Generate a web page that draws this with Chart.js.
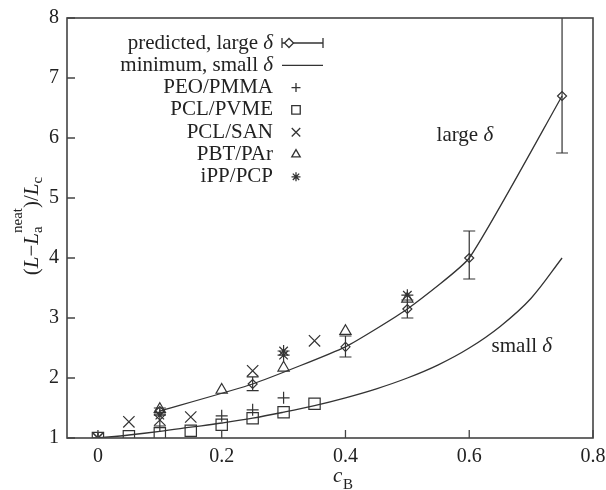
<!DOCTYPE html>
<html>
<head>
<meta charset="utf-8">
<script src="https://cdn.jsdelivr.net/npm/chart.js@4.4.0/dist/chart.umd.min.js"></script>
<style>
  body { margin: 0; background: #fff; }
  #wrap { width: 606px; height: 490px; }
</style>
</head>
<body>
<div id="wrap"><canvas id="chart" width="606" height="490"></canvas></div>
<script>
// axis ticks
const xTicks = [0, 0.2, 0.4, 0.6, 0.8];
const yTicks = [1, 2, 3, 4, 5, 6, 7, 8];

// predicted, large delta (with error bars)
const predX  = [0.1, 0.25, 0.4, 0.5, 0.6, 0.75];
const predY  = [1.45, 1.9, 2.52, 3.15, 4.0, 6.7];
const predLo = [1.4, 1.79, 2.35, 3.0, 3.65, 5.75];
const predHi = [1.5, 2.02, 2.7, 3.3, 4.45, 8.3];

// minimum, small delta
const minX = [0, 0.05, 0.1, 0.15, 0.2, 0.25, 0.3, 0.35, 0.4, 0.45, 0.5, 0.55, 0.6, 0.65, 0.7, 0.75];
const minY = [1.0, 1.05, 1.11, 1.18, 1.25, 1.33, 1.43, 1.54, 1.67, 1.82, 2.0, 2.22, 2.5, 2.86, 3.33, 4.0];

// experiments
const peoX  = [0, 0.1, 0.2, 0.25, 0.3];
const peoY  = [1.0, 1.2, 1.37, 1.47, 1.67];
const pvmeX = [0, 0.05, 0.1, 0.15, 0.2, 0.25, 0.3, 0.35];
const pvmeY = [1.0, 1.03, 1.08, 1.12, 1.22, 1.33, 1.43, 1.57];
const sanX  = [0, 0.05, 0.1, 0.15, 0.25, 0.35];
const sanY  = [1.0, 1.27, 1.3, 1.35, 2.12, 2.62];
const parX  = [0.1, 0.2, 0.3, 0.4, 0.5];
const parY  = [1.48, 1.8, 2.17, 2.78, 3.32];
const pcpX  = [0, 0.1, 0.3, 0.3, 0.5];
const pcpY  = [1.0, 1.38, 2.38, 2.45, 3.38];

const INK = "#333";
const SERIF = "'Liberation Serif', 'DejaVu Serif', serif";

function pts(xs, ys) {
    return xs.map((x, i) => ({ x: x, y: ys[i] }));
}

function marker(label, xs, ys, style, r) {
    return {
        label: label,
        data: pts(xs, ys),
        showLine: false,
        pointStyle: style,
        pointRadius: r,
        pointBorderWidth: 1.2,
        borderColor: INK,
        backgroundColor: "rgba(0,0,0,0)",
        kind: "point"
    };
}

const datasets = [
    {
        label: "predicted, large \u03b4",
        data: pts(predX, predY),
        showLine: true,
        tension: 0.15,
        borderWidth: 1.3,
        borderColor: INK,
        backgroundColor: "rgba(0,0,0,0)",
        pointStyle: "rectRot",
        pointRadius: 4.5,
        pointBorderWidth: 1.2,
        kind: "errline",
        lo: predLo,
        hi: predHi
    },
    {
        label: "minimum, small \u03b4",
        data: pts(minX, minY),
        showLine: true,
        tension: 0.35,
        borderWidth: 1.3,
        borderColor: INK,
        pointRadius: 0,
        kind: "line"
    },
    marker("PEO/PMMA", peoX, peoY, "cross", 6),
    marker("PCL/PVME", pvmeX, pvmeY, "rect", 8),
    marker("PCL/SAN", sanX, sanY, "crossRot", 8),
    marker("PBT/PAr", parX, parY, "triangle", 6.5),
    marker("iPP/PCP", pcpX, pcpY, "star", 6)
];

// draws text that may end in an italic delta
function drawLabel(ctx, text, x, y, size, align) {
    const rFont = size + "px " + SERIF;
    const iFont = "italic " + size + "px " + SERIF;
    let main = text, tail = "";
    if (text.endsWith("\u03b4")) { main = text.slice(0, -1); tail = "\u03b4"; }
    ctx.font = rFont;
    const wm = ctx.measureText(main).width;
    ctx.font = iFont;
    const wt = tail ? ctx.measureText(tail).width : 0;
    let start = x;
    if (align === "right") start = x - wm - wt;
    if (align === "center") start = x - (wm + wt) / 2;
    ctx.textAlign = "left";
    ctx.font = rFont;
    ctx.fillText(main, start, y);
    if (tail) {
        ctx.font = iFont;
        ctx.fillText(tail, start + wm, y);
    }
}

const decoPlugin = {
    id: "deco",
    afterDatasetsDraw(chart) {
        const ctx = chart.ctx;
        const xs = chart.scales.x, ys = chart.scales.y;
        const a = chart.chartArea;

        // error bars
        ctx.save();
        ctx.beginPath();
        ctx.rect(a.left, a.top, a.right - a.left, a.bottom - a.top);
        ctx.clip();
        ctx.strokeStyle = INK;
        ctx.lineWidth = 1.2;
        chart.data.datasets.forEach(ds => {
            if (ds.kind !== "errline") return;
            ds.data.forEach((p, i) => {
                const px = xs.getPixelForValue(p.x);
                const y1 = ys.getPixelForValue(ds.lo[i]);
                const y2 = ys.getPixelForValue(ds.hi[i]);
                ctx.beginPath();
                ctx.moveTo(px, y1); ctx.lineTo(px, y2);
                ctx.moveTo(px - 6, y1); ctx.lineTo(px + 6, y1);
                ctx.moveTo(px - 6, y2); ctx.lineTo(px + 6, y2);
                ctx.stroke();
            });
        });
        ctx.restore();

        // frame and inward ticks
        ctx.save();
        ctx.strokeStyle = "#444";
        ctx.lineWidth = 1.6;
        ctx.strokeRect(a.left, a.top, a.right - a.left, a.bottom - a.top);
        ctx.lineWidth = 1.3;
        ctx.beginPath();
        yTicks.forEach(v => {
            const py = ys.getPixelForValue(v);
            ctx.moveTo(a.left, py); ctx.lineTo(a.left + 8, py);
        });
        xTicks.forEach(v => {
            const px = xs.getPixelForValue(v);
            ctx.moveTo(px, a.bottom); ctx.lineTo(px, a.bottom - 8);
        });
        ctx.stroke();
        ctx.restore();

        // curve annotations
        ctx.save();
        ctx.fillStyle = "#222";
        ctx.textBaseline = "middle";
        drawLabel(ctx, "large \u03b4", xs.getPixelForValue(0.593), ys.getPixelForValue(6.05), 21, "center");
        drawLabel(ctx, "small \u03b4", xs.getPixelForValue(0.685), ys.getPixelForValue(2.52), 21, "center");
        ctx.restore();
    },
    afterDraw(chart) {
        const ctx = chart.ctx;
        const h = Chart.helpers;

        // key, gnuplot style: text right-aligned, sample to the right
        ctx.save();
        ctx.fillStyle = "#222";
        ctx.strokeStyle = INK;
        ctx.textBaseline = "middle";
        const textRight = 273;
        chart.data.datasets.forEach((ds, i) => {
            const y = 43 + i * 22.3;
            drawLabel(ctx, ds.label, textRight, y, 21, "right");
            ctx.lineWidth = 1.3;
            if (ds.kind === "errline") {
                ctx.beginPath();
                ctx.moveTo(282, y); ctx.lineTo(323, y);
                ctx.moveTo(282, y - 5); ctx.lineTo(282, y + 5);
                ctx.moveTo(323, y - 5); ctx.lineTo(323, y + 5);
                ctx.stroke();
                ctx.fillStyle = "#fff";
                h.drawPoint(ctx, { pointStyle: ds.pointStyle, radius: ds.pointRadius, borderWidth: 1.2, rotation: 0 }, 289, y);
                ctx.fillStyle = "#222";
            } else if (ds.kind === "line") {
                ctx.beginPath();
                ctx.moveTo(282, y); ctx.lineTo(323, y);
                ctx.stroke();
            } else {
                ctx.fillStyle = "rgba(0,0,0,0)";
                h.drawPoint(ctx, { pointStyle: ds.pointStyle, radius: ds.pointRadius * 0.75, borderWidth: 1.2, rotation: 0 }, 296, y);
                ctx.fillStyle = "#222";
            }
        });
        ctx.restore();

        // y axis title: (L - L_a^neat)/L_c
        ctx.save();
        ctx.fillStyle = "#222";
        ctx.textBaseline = "alphabetic";
        ctx.textAlign = "left";
        const R = "21px " + SERIF, I = "italic 21px " + SERIF, S = "15px " + SERIF;
        const pieces = [
            { t: "(", f: R, dy: 0 },
            { t: "L", f: I, dy: 0 },
            { t: "\u2212", f: R, dy: 0 },
            { t: "L", f: I, dy: 0 },
            { stack: [{ t: "a", f: S, dy: 4 }, { t: "neat", f: S, dy: -16 }] },
            { t: ")/", f: R, dy: 0 },
            { t: "L", f: I, dy: 0 },
            { t: "c", f: S, dy: 4 }
        ];
        const widthOf = p => {
            if (p.stack) return Math.max(...p.stack.map(widthOf));
            ctx.font = p.f;
            return ctx.measureText(p.t).width;
        };
        const total = pieces.reduce((s, p) => s + widthOf(p), 0);
        ctx.translate(38, 226);
        ctx.rotate(-Math.PI / 2);
        let cx = -total / 2;
        pieces.forEach(p => {
            const list = p.stack ? p.stack : [p];
            list.forEach(q => {
                ctx.font = q.f;
                ctx.fillText(q.t, cx, q.dy);
            });
            cx += widthOf(p);
        });
        ctx.restore();

        // x axis title: c_B
        ctx.save();
        ctx.fillStyle = "#222";
        ctx.textAlign = "left";
        ctx.textBaseline = "alphabetic";
        ctx.font = "italic 21px " + SERIF;
        ctx.fillText("c", 333, 482);
        ctx.font = "15px " + SERIF;
        ctx.fillText("B", 343, 489);
        ctx.restore();
    }
};

const ctx = document.getElementById("chart").getContext("2d");
window.myChart = new Chart(ctx, {
    type: "scatter",
    data: { datasets: datasets },
    options: {
        responsive: false,
        animation: false,
        devicePixelRatio: 1,
        layout: { padding: { top: 18, right: 13, left: 0, bottom: 0 } },
        plugins: {
            legend: { display: false },
            tooltip: { enabled: false }
        },
        scales: {
            x: {
                type: "linear",
                min: -0.05,
                max: 0.8,
                grid: { display: false, drawTicks: false },
                border: { display: false },
                ticks: {
                    padding: 7,
                    color: "#222",
                    font: { family: SERIF, size: 20 },
                    callback: v => String(v)
                },
                afterBuildTicks: s => { s.ticks = xTicks.map(v => ({ value: v })); },
                afterFit: s => { s.height = 52; s.paddingRight = 0; s.paddingLeft = 0; }
            },
            y: {
                type: "linear",
                min: 1,
                max: 8,
                grid: { display: false, drawTicks: false },
                border: { display: false },
                ticks: {
                    padding: 8,
                    color: "#222",
                    font: { family: SERIF, size: 20 },
                    callback: v => String(v)
                },
                afterBuildTicks: s => { s.ticks = yTicks.map(v => ({ value: v })); },
                afterFit: s => { s.width = 67; s.paddingTop = 0; s.paddingBottom = 0; }
            }
        }
    },
    plugins: [decoPlugin]
});
</script>
</body>
</html>
